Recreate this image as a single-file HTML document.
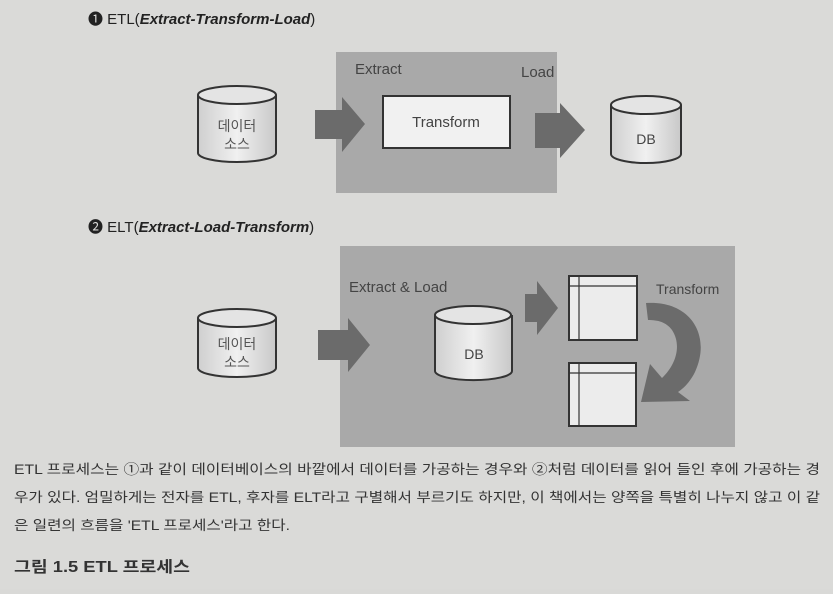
<!DOCTYPE html>
<html><head><meta charset="utf-8"><style>
html,body{margin:0;padding:0;}
body{width:833px;height:589px;overflow:hidden;background:#d9d9d7;font-family:"Liberation Sans","Noto Sans CJK KR",sans-serif;}
</style></head><body>
<svg width="833" height="589" viewBox="0 0 833 589" xmlns="http://www.w3.org/2000/svg" font-family="Liberation Sans, Noto Sans CJK KR, sans-serif">
<defs>
<linearGradient id="cyl" x1="0" x2="1" y1="0" y2="0">
<stop offset="0" stop-color="#cfcfcf"/><stop offset="0.5" stop-color="#f0f0f0"/><stop offset="1" stop-color="#c8c8c8"/>
</linearGradient>
</defs>
<rect width="833" height="589" fill="#dadad8"/>
<text x="88" y="24" font-size="15" fill="#222">❶ ETL(<tspan font-weight="bold" font-style="italic">Extract-Transform-Load</tspan>)</text>
<rect x="336" y="52" width="221" height="141" fill="#a9a9a9"/>
<text x="355" y="74" font-size="15" fill="#444">Extract</text>
<text x="521" y="77" font-size="15" fill="#444">Load</text>
<rect x="383" y="96" width="127" height="52" fill="#f1f1f1" stroke="#333" stroke-width="2"/>
<text x="446" y="127" font-size="15" fill="#444" text-anchor="middle">Transform</text>
<g stroke="#333" stroke-width="2">
<path d="M198 95 v58 a39 9 0 0 0 78 0 v-58" fill="url(#cyl)"/>
<ellipse cx="237" cy="95" rx="39" ry="9" fill="#e4e4e4"/>
</g>
<text x="237" y="131" font-size="14" fill="#555" text-anchor="middle">데이터</text>
<text x="237" y="149" font-size="14" fill="#555" text-anchor="middle">소스</text>
<path d="M315 110 h27 v-13 l23 27 l-23 28 v-13 h-27z" fill="#6b6b6b"/>
<path d="M535 113 h25 v-10 l25 27 l-25 28 v-10 h-25z" fill="#6b6b6b"/>
<g stroke="#333" stroke-width="2">
<path d="M611 105 v49 a35 9 0 0 0 70 0 v-49" fill="url(#cyl)"/>
<ellipse cx="646" cy="105" rx="35" ry="9" fill="#e4e4e4"/>
</g>
<text x="646" y="144" font-size="14" fill="#444" text-anchor="middle">DB</text>
<text x="88" y="232" font-size="15" fill="#222">❷ ELT(<tspan font-weight="bold" font-style="italic">Extract-Load-Transform</tspan>)</text>
<rect x="340" y="246" width="395" height="201" fill="#a9a9a9"/>
<text x="349" y="292" font-size="15" fill="#444">Extract &amp; Load</text>
<text x="656" y="294" font-size="14" fill="#444">Transform</text>
<g stroke="#333" stroke-width="2">
<path d="M198 318 v50 a39 9 0 0 0 78 0 v-50" fill="url(#cyl)"/>
<ellipse cx="237" cy="318" rx="39" ry="9" fill="#e4e4e4"/>
</g>
<text x="237" y="349" font-size="14" fill="#555" text-anchor="middle">데이터</text>
<text x="237" y="367" font-size="14" fill="#555" text-anchor="middle">소스</text>
<path d="M318 330 h30 v-12 l22 27 l-22 27 v-12 h-30z" fill="#6b6b6b"/>
<g stroke="#333" stroke-width="2">
<path d="M435 315 v56 a38 9 0 0 0 77 0 v-56" fill="url(#cyl)"/>
<ellipse cx="473" cy="315" rx="38" ry="9" fill="#e4e4e4"/>
</g>
<text x="474" y="359" font-size="14" fill="#444" text-anchor="middle">DB</text>
<path d="M525 294 h12 v-13 l21 27 l-21 27 v-13 h-12z" fill="#6b6b6b"/>
<g stroke="#333" stroke-width="2" fill="#ececec">
<rect x="569" y="276" width="68" height="64"/>
<rect x="569" y="363" width="67" height="63"/>
</g>
<g stroke="#333" stroke-width="1.2">
<line x1="569" y1="286" x2="637" y2="286"/><line x1="579" y1="276" x2="579" y2="340"/>
<line x1="569" y1="373" x2="636" y2="373"/><line x1="579" y1="363" x2="579" y2="426"/>
</g>
<path d="M646 303 C690 300 712 335 695 372 C690 382 684 388 678 392 L690 401 L641 402 L650 364 L662 378 C676 365 682 345 672 330 C666 322 658 320 648 320 Z" fill="#6b6b6b"/>
<g font-size="13.5" fill="#333">
<text x="14" y="474" textLength="806" lengthAdjust="spacingAndGlyphs">ETL 프로세스는 ①과 같이 데이터베이스의 바깥에서 데이터를 가공하는 경우와 ②처럼 데이터를 읽어 들인 후에 가공하는 경</text>
<text x="14" y="502" textLength="806" lengthAdjust="spacingAndGlyphs">우가 있다. 엄밀하게는 전자를 ETL, 후자를 ELT라고 구별해서 부르기도 하지만, 이 책에서는 양쪽을 특별히 나누지 않고 이 같</text>
<text x="14" y="530" textLength="276" lengthAdjust="spacingAndGlyphs">은 일련의 흐름을 'ETL 프로세스'라고 한다.</text>
</g>
<text x="14" y="572" font-size="15.5" font-weight="bold" fill="#333" textLength="176" lengthAdjust="spacingAndGlyphs">그림 1.5  ETL 프로세스</text>
</svg>
</body></html>
